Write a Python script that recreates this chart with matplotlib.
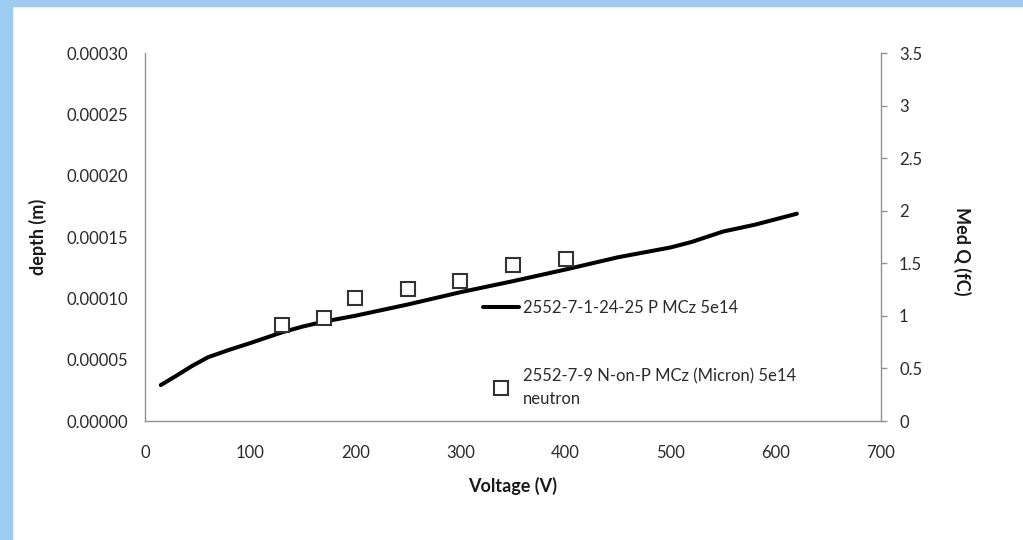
import numpy as np
from matplotlib import pyplot as plt
from matplotlib.patches import Rectangle
from matplotlib.ticker import FuncFormatter

# depth curve (left axis)
volt_line = [15, 30, 45, 60, 80, 100, 130, 150, 170, 200, 250, 300, 350, 400, 450, 500, 520, 550, 580, 620]
depth = [0.0000293, 0.0000370, 0.0000450, 0.0000520, 0.0000580, 0.0000635, 0.0000722, 0.0000770,
         0.0000810, 0.0000858, 0.0000950, 0.0001050, 0.0001140, 0.0001235, 0.0001335, 0.0001415,
         0.0001460, 0.0001545, 0.0001600, 0.0001690]

# median charge (right axis)
volt_pts = [130, 170, 200, 250, 300, 350, 400]
med_q = [0.91, 0.98, 1.17, 1.26, 1.33, 1.48, 1.54]

label_line = '2552-7-1-24-25 P MCz 5e14'
label_pts = '2552-7-9 N-on-P MCz (Micron) 5e14\nneutron'

plt.rcParams['font.family'] = ['Lato', 'DejaVu Sans']
plt.rcParams['font.size'] = 12

fig = plt.figure(figsize=(10.23, 5.40), dpi=100)
# light blue frame on the left and top
fig.patches.append(Rectangle((0, 0), 12 / 1023, 1, transform=fig.transFigure, color='#9ecbf1', zorder=0))
fig.patches.append(Rectangle((0, 1 - 6 / 540), 1, 6 / 540, transform=fig.transFigure, color='#9ecbf1', zorder=0))

ax = fig.add_axes([145 / 1023, 119 / 540, 736 / 1023, 368 / 540])
ax2 = ax.twinx()

l1, = ax.plot(volt_line, depth, color='black', lw=2.9, solid_capstyle='round', label=label_line)
l2, = ax2.plot(volt_pts, med_q, ls='none', marker='s', ms=10, mfc='white', mec='#333333',
               mew=1.5, label=label_pts)

ax.set_xlim(0, 700)
ax.set_ylim(0, 0.0003)
ax2.set_ylim(0, 3.5)
ax.set_xticks(np.arange(0, 701, 100))
ax.set_yticks(np.arange(0, 0.00031, 0.00005))
ax2.set_yticks(np.arange(0, 3.6, 0.5))
ax.yaxis.set_major_formatter(FuncFormatter(lambda v, p: '%.5f' % v))
ax2.yaxis.set_major_formatter(FuncFormatter(lambda v, p: '%g' % v))

for a in (ax, ax2):
    for s in a.spines.values():
        s.set_color('#929292')
        s.set_linewidth(1.0)
    a.spines['top'].set_visible(False)
ax.spines['right'].set_visible(False)
ax2.spines['left'].set_visible(False)
ax2.spines['bottom'].set_visible(False)

ax.tick_params(axis='both', length=0, colors='#2b2b2b')
ax.tick_params(axis='y', pad=12)
ax.tick_params(axis='x', pad=17)
ax2.tick_params(axis='y', length=4, width=1, color='#929292', labelcolor='#2b2b2b', pad=9)

ax.set_xlabel('Voltage (V)', fontweight='bold', color='#1a1a1a', fontsize=13)
ax.set_ylabel('depth (m)', fontweight='bold', color='#1a1a1a', fontsize=13)
ax2.set_ylabel('Med Q (fC)', fontweight='bold', color='#1a1a1a', fontsize=13, rotation=270)
ax.xaxis.label.set_va('center')
ax.yaxis.label.set_va('center')
ax2.yaxis.label.set_va('center')
ax.xaxis.set_label_coords(0.5, -0.176)
ax.yaxis.set_label_coords(-0.145, 0.5)
ax2.yaxis.set_label_coords(1.11, 0.46)

leg = ax2.legend(handles=[l1, l2], loc='upper left', bbox_to_anchor=(0.459, 0.33), frameon=False,
                 borderpad=0, borderaxespad=0, handlelength=2.2, handletextpad=0.2, labelspacing=3.15,
                 fontsize=12, labelcolor='#2b2b2b')
for t in leg.get_texts():
    t.set_linespacing(1.5)

fig.savefig('out.png', dpi=100)
